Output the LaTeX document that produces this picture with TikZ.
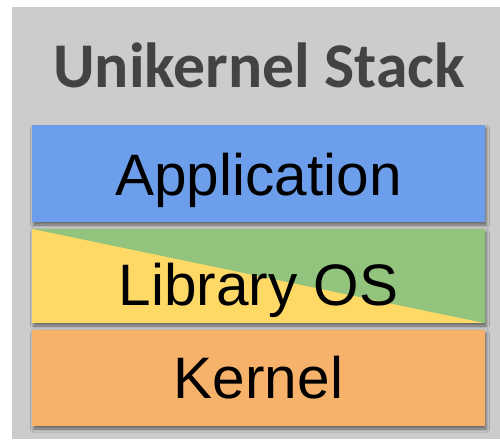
\documentclass[tikz,border=0pt]{standalone}
\usepackage{fontspec}
\setmainfont{Liberation Sans}
\newfontfamily\titlefont{Carlito}
\usetikzlibrary{shadows.blur}

\definecolor{panelgray}{HTML}{CCCCCC}
\definecolor{titlegray}{HTML}{434343}
\definecolor{appblue}{HTML}{6D9EEB}
\definecolor{libgreen}{HTML}{93C47D}
\definecolor{libyellow}{HTML}{FFD966}
\definecolor{kernorange}{HTML}{F6B26B}

\tikzset{
  layer/.style={rectangle, draw=none, inner sep=0pt,
    minimum width=453pt, minimum height=96pt,
    blur shadow={shadow xshift=1.5pt, shadow yshift=-3pt,
                 shadow blur radius=3pt, shadow opacity=50}},
  layertext/.style={anchor=base, inner sep=0pt, text=black,
    font=\fontsize{58.5}{60}\selectfont},
}

\begin{document}
\begin{tikzpicture}[x=1pt, y=-1pt]
  \useasboundingbox (0,0) rectangle (500,439);
  % panel
  \fill[panelgray] (12,7) rectangle (500,439);
  \node[anchor=base, inner sep=0pt, text=titlegray,
        font=\titlefont\bfseries\fontsize{63.7}{66}\selectfont]
        (title) at (259,87) {Unikernel Stack};

  % application layer
  \node[layer, fill=appblue, minimum height=97pt] (app) at (258.5,173.5) {};
  \node[layertext] (apptext) at (258.5,195) {Application};

  % library OS layer, split along its diagonal
  \node[layer, fill=libyellow, minimum height=94pt] (lib) at (258.5,276) {};
  \fill[libgreen] (lib.north west) -- (lib.north east) -- (lib.south east) -- cycle;
  \node[layertext] (libtext) at (258.5,305) {Library OS};

  % kernel layer
  \node[layer, fill=kernorange] (kern) at (258.5,378) {};
  \node[layertext] (kerntext) at (258.5,398) {Kernel};
\end{tikzpicture}
\end{document}
